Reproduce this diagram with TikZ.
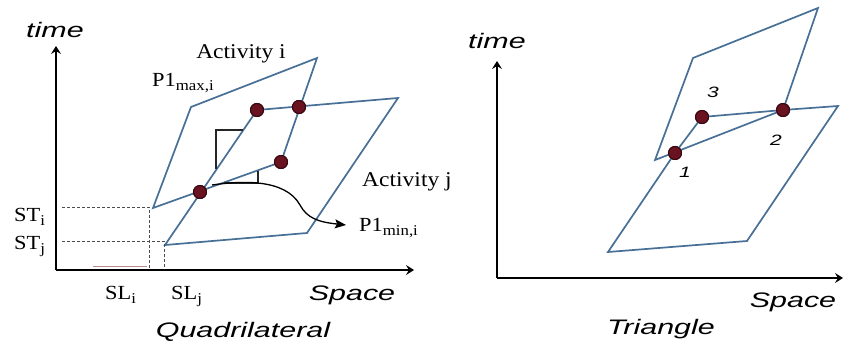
\documentclass[tikz,border=0pt]{standalone}
\usepackage{fontspec}
\setmainfont{Liberation Serif}
\setsansfont{Liberation Sans}
\usetikzlibrary{arrows.meta}
\definecolor{actblue}{RGB}{72,112,150}
\definecolor{dotred}{RGB}{105,18,32}
\definecolor{dotedge}{RGB}{55,8,15}
\newcommand\subsc[1]{\raisebox{-4.5pt}{\fontsize{15}{15}\selectfont #1}}
\tikzset{
  axis/.style={line width=2pt, -{Stealth[length=8pt,width=10pt,inset=3pt]}},
  actline/.style={draw=actblue, line width=1.7pt, line join=miter},
  dot/.style={circle, fill=dotred, draw=dotedge, line width=1pt, minimum size=13pt, inner sep=0pt},
  guide/.style={draw=black!70, line width=0.6pt, dash pattern=on 3pt off 2pt},
  marker/.style={draw=black!85, line width=1.1pt},
  sanslab/.style={font=\fontsize{21}{21}\selectfont\sffamily\itshape, xscale=1.45, inner sep=0pt},
  numlab/.style={font=\fontsize{15}{15}\selectfont\sffamily\itshape, xscale=1.4, inner sep=0pt},
  serlab/.style={font=\fontsize{21}{21}\selectfont\rmfamily, xscale=1.12, inner sep=0pt},
}
\begin{document}
\begin{tikzpicture}[x=1pt,y=-1pt]
\useasboundingbox[fill=white] (0,0) rectangle (843,346);
% ---------------- left panel: Quadrilateral ----------------
\coordinate (o1) at (56,270);
\coordinate (y1) at (56,46);
\coordinate (x1) at (414,270);
\draw[axis] (o1) -- (y1);
\draw[axis] (o1) -- (x1);
% activity polygons
\coordinate (ai1) at (153,208);
\coordinate (ai2) at (191,107);
\coordinate (ai3) at (317,58);
\coordinate (ai4) at (281,162);
\coordinate (aj1) at (165,245);
\coordinate (aj2) at (257,110);
\coordinate (aj3) at (398,98);
\coordinate (aj4) at (307,233);
\draw[actline] (ai1) -- (ai2) -- (ai3) -- (ai4) -- cycle;
\draw[actline] (aj1) -- (aj2) -- (aj3) -- (aj4) -- cycle;
% right-angle marks
\coordinate (m1a) at (243,130);
\coordinate (m1b) at (216,130);
\coordinate (m1c) at (216,169);
\draw[marker] (m1a) -- (m1b) -- (m1c);
\coordinate (m2a) at (224,183);
\coordinate (m2b) at (258,183);
\coordinate (m2c) at (258,170.5);
\draw[marker] (m2a) -- (m2b) -- (m2c);
% guide lines
\coordinate (sti) at (62,207);
\coordinate (sti2) at (149,207);
\coordinate (sli) at (149,269);
\coordinate (stj) at (62,241);
\coordinate (stj2) at (164,241);
\coordinate (slj) at (164,269);
\draw[guide] (sti) -- (sti2) -- (sli);
\draw[guide] (stj) -- (stj2) -- (slj);
\coordinate (fa) at (93,266);
\coordinate (fb) at (147,266);
\draw[draw=red!35!black!45, line width=0.6pt] (fa) -- (fb);
% dots
\node[dot] (d1) at (200,192) {};
\node[dot] (d2) at (257,110) {};
\node[dot] (d3) at (299,107) {};
\node[dot] (d4) at (281,162) {};
% labels
\node[serlab, anchor=base] (acti) at (241,58) {Activity i};
\node[serlab, anchor=base west, font=\fontsize{20}{20}\selectfont\rmfamily] (pmax) at (152,86) {P1\subsc{max,i}};
\node[serlab, anchor=base west] (actj) at (362,186) {Activity j};
\node[serlab, anchor=base west, font=\fontsize{20}{20}\selectfont\rmfamily] (pmin) at (359,231) {P1\subsc{min,i}};
\node[serlab, anchor=base west, font=\fontsize{20}{20}\selectfont\rmfamily] (lsti) at (14,221) {ST\subsc{i}};
\node[serlab, anchor=base west, font=\fontsize{20}{20}\selectfont\rmfamily] (lstj) at (14,249) {ST\subsc{j}};
\node[serlab, anchor=base west, font=\fontsize{20}{20}\selectfont\rmfamily] (lsli) at (105,299) {SL\subsc{i}};
\node[serlab, anchor=base west, font=\fontsize{20}{20}\selectfont\rmfamily] (lslj) at (171,299) {SL\subsc{j}};
\node[sanslab, anchor=base] (time1) at (55,37) {time};
\node[sanslab, anchor=base] (space1) at (352,300) {Space};
\node[sanslab, anchor=base] (quad) at (243,337) {Quadrilateral};
% curved arrow
\coordinate (cstart) at (212,185);
\draw[line width=1.3pt, -{Stealth[length=11pt,width=9pt,inset=2pt]}] (cstart) .. controls (240,181) and (285,178) .. (300,205) .. controls (307,218) and (318,222) .. ([xshift=-13pt,yshift=6pt]pmin.base west);
% ---------------- right panel: Triangle ----------------
\coordinate (o2) at (497,278);
\coordinate (y2) at (497,61);
\coordinate (x2) at (843,278);
\draw[axis] (o2) -- (y2);
\draw[axis] (o2) -- (x2);
\coordinate (u1) at (655,160);
\coordinate (u2) at (693,58);
\coordinate (u3) at (818,8);
\coordinate (u4) at (783,110);
\coordinate (l1) at (608,252);
\coordinate (l3) at (838,106);
\coordinate (l4) at (747,241);
\node[dot] (t1) at (675,153) {};
\node[dot] (t2) at (783,110) {};
\node[dot] (t3) at (702,117) {};
\draw[actline] (u1) -- (u2) -- (u3) -- (u4) -- cycle;
\draw[actline] (l1) -- (t1.center) -- (t3.center) -- (t2.center) -- (l3) -- (l4) -- cycle;
\node[dot] at (t1) {};
\node[dot] at (t2) {};
\node[dot] at (t3) {};
\node[numlab] (n3) at (713,92) {3};
\node[numlab] (n2) at (776,140) {2};
\node[numlab] (n1) at (685,172) {1};
\node[sanslab, anchor=base] (time2) at (497,48) {time};
\node[sanslab, anchor=base] (space2) at (793,307) {Space};
\node[sanslab, anchor=base] (tri) at (661,334) {Triangle};
% redraw left dots on top
\node[dot] at (d1) {};
\node[dot] at (d2) {};
\node[dot] at (d3) {};
\node[dot] at (d4) {};
\end{tikzpicture}
\end{document}
